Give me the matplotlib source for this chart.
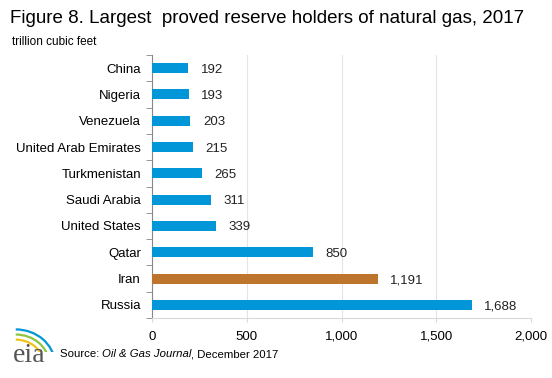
import matplotlib
matplotlib.use("Agg")
import matplotlib.pyplot as plt
from matplotlib.patches import Arc
import numpy as np

countries = ["Russia", "Iran", "Qatar", "United States", "Saudi Arabia",
             "Turkmenistan", "United Arab Emirates", "Venezuela", "Nigeria", "China"]
reserves = [1688, 1191, 850, 339, 311, 265, 215, 203, 193, 192]
highlight = "Iran"

blue = "#0096d7"
brown = "#bd742d"

plt.rcParams["font.family"] = ["Liberation Sans", "DejaVu Sans"]

fig = plt.figure(figsize=(5.52, 3.78), dpi=100)
ax = fig.add_axes([0.2754, 0.1587, 0.6866, 0.6958])

y = np.arange(len(countries))
colors = [brown if c == highlight else blue for c in countries]
ax.barh(y, reserves, height=0.38, color=colors, zorder=3)

for yi, v in zip(y, reserves):
    ax.annotate(f"{v:,}", (v, yi), xytext=(9, 0), textcoords="offset points",
                va="center_baseline", ha="left", fontsize=9.5, color="#222222")

ax.set_ylim(-0.5, len(countries) - 0.5)
ax.set_xlim(0, 2000)
ax.set_xticks([0, 500, 1000, 1500, 2000])
ax.set_xticklabels(["0", "500", "1,000", "1,500", "2,000"], fontsize=9.5)
ax.set_yticks(y)
ax.set_yticklabels(countries, fontsize=9.5)
ax.set_yticks(np.arange(-0.5, len(countries), 1), minor=True)
ax.tick_params(axis="y", which="major", length=0, pad=8)
ax.tick_params(axis="y", which="minor", length=4, color="#888888")
ax.tick_params(axis="x", length=3, color="#d9d9d9", pad=6)
ax.grid(axis="x", color="#e4e4e4", linewidth=0.8, zorder=0)

for s in ["top", "right"]:
    ax.spines[s].set_visible(False)
ax.spines["left"].set_color("#888888")
ax.spines["bottom"].set_color("#d9d9d9")

fig.text(0.018, 0.952, "Figure 8. Largest  proved reserve holders of natural gas, 2017",
         fontsize=13.5, va="center", ha="left")
fig.text(0.022, 0.889, "trillion cubic feet", fontsize=8.5, va="center", ha="left")

# source line, pieces placed one after another
renderer = fig.canvas.get_renderer()
x0 = 0.108
for txt, st in [("Source: ", "normal"), ("Oil & Gas Journal", "italic"), (", December 2017", "normal")]:
    t = fig.text(x0, 0.063, txt, fontsize=8.2, va="center", ha="left", style=st)
    bb = t.get_window_extent(renderer)
    x0 += bb.width / fig.bbox.width

# eia logo
fig.text(0.024, 0.06, "eia", fontsize=20, family="Liberation Serif", color="#555555",
         va="center", ha="left")
lax = fig.add_axes([0.02, 0.07, 0.085, 0.09])
lax.set_xlim(0, 1)
lax.set_ylim(0, 1)
lax.axis("off")
for r, c in [(0.75, "#f0c419"), (0.9, "#8cc63f"), (1.05, "#0096d7")]:
    lax.add_patch(Arc((0.1, -0.4), r * 1.6, r * 2.0, theta1=5, theta2=90, color=c, lw=1.6))

fig.savefig("out.png", dpi=100)
